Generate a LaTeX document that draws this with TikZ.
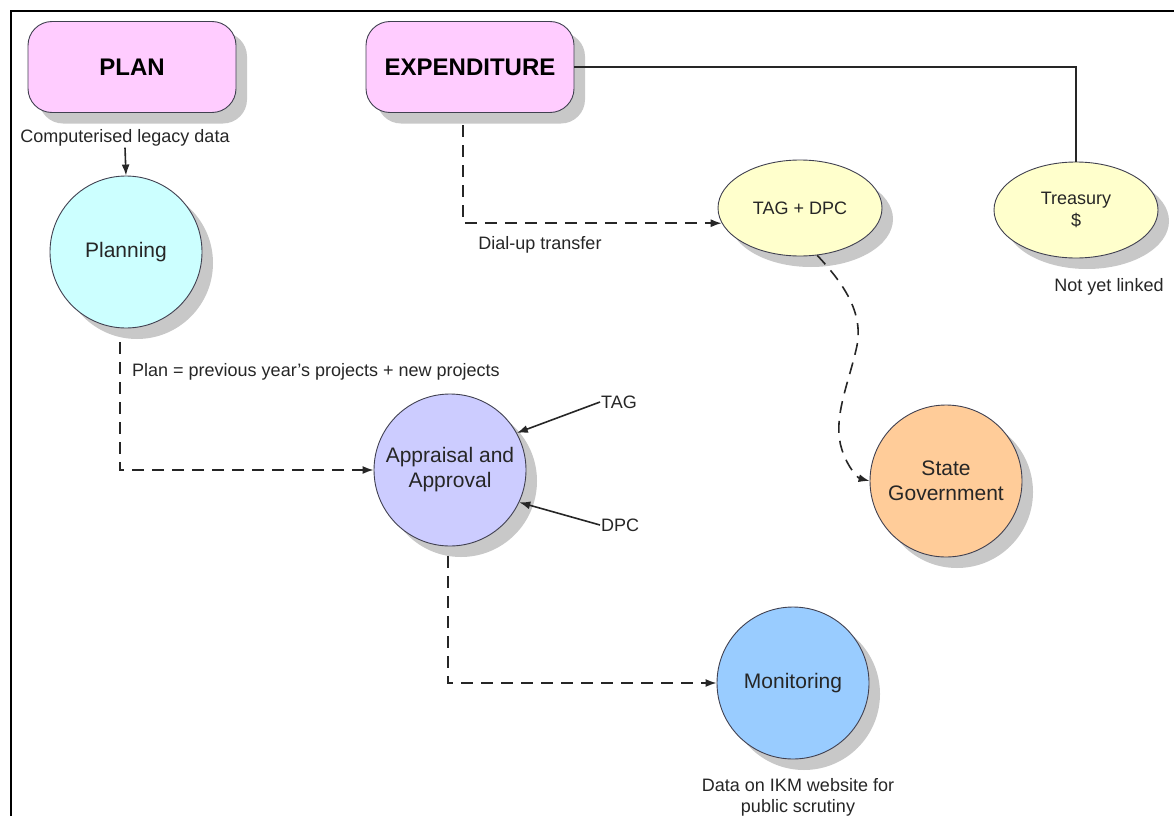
\documentclass[tikz,border=0pt]{standalone}
\usepackage{fontspec}
\setmainfont{Liberation Sans}
\usetikzlibrary{shapes.geometric,shadows,arrows.meta,calc}
\definecolor{pinkfill}{HTML}{FFCCFF}
\definecolor{cyanfill}{HTML}{CCFFFF}
\definecolor{yellowfill}{HTML}{FFFFCC}
\definecolor{lavfill}{HTML}{CCCCFF}
\definecolor{orfill}{HTML}{FFCC99}
\definecolor{blufill}{HTML}{99CCFF}
\definecolor{shadowgray}{HTML}{C8C8C8}
\definecolor{edgecol}{HTML}{404050}
\begin{document}
\begin{tikzpicture}[x=1pt,y=-1pt,
  shd/.style={drop shadow={shadow xshift=11pt,shadow yshift=-11pt,fill=shadowgray,opacity=1}},
  box/.style={draw=edgecol,line width=0.9pt,rounded corners=24pt,minimum width=208pt,minimum height=91pt,inner sep=0pt,font=\fontsize{24}{28}\selectfont\bfseries,shd},
  circ/.style={circle,draw=edgecol,line width=0.9pt,minimum size=152pt,inner sep=0pt,align=center,font=\fontsize{21}{25}\selectfont,text=black!85,shd},
  ell/.style={ellipse,draw=edgecol,line width=0.9pt,minimum width=164pt,minimum height=96pt,inner sep=0pt,align=center,font=\fontsize{18}{22}\selectfont,text=black!85,shd,fill=yellowfill},
  lbl/.style={font=\fontsize{18}{21}\selectfont,inner sep=1pt,align=center,text=black!85},
  conn/.style={line width=1.6pt,draw=black!85},
  dconn/.style={conn,dash pattern=on 12pt off 8pt},
  arr/.style={-{Latex[length=11pt,width=8pt]}}
]
\useasboundingbox (0,0) rectangle (1174,816);

% nodes
\node[box,fill=pinkfill] (plan) at (132,67) {PLAN};
\node[box,fill=pinkfill] (exp) at (470,67) {EXPENDITURE};
\node[lbl] (cld) at (125,138) {Computerised legacy data};
\node[circ,fill=cyanfill] (planning) at (126,252) {Planning};
\node[circ,fill=lavfill] (app) at (450,470) {Appraisal and\\Approval};
\node[circ,fill=blufill] (mon) at (793,683) {Monitoring};
\node[circ,fill=orfill] (sg) at (946,481) {State\\Government};
\node[ell] (td) at (800,208) {TAG + DPC};
\node[ell] (tr) at (1076,210) {Treasury\\\$};
\node[lbl] (dial) at (540,245) {Dial-up transfer};
\node[lbl] (nyl) at (1109,287) {Not yet linked};
\node[lbl,anchor=west] (plantxt) at (131,372) {Plan = previous year's projects + new projects};
\node[lbl,anchor=west] (tag) at (600,402) {TAG};
\node[lbl,anchor=west] (dpc) at (600,525) {DPC};
\node[lbl] (ikm) at (798,797) {Data on IKM website for\\public scrutiny};

% free ends below shadows
\coordinate (p1) at (120,342);
\coordinate (a1) at (448,556);
\coordinate (e1) at (463,125);

% connectors
\draw[conn,arr] (cld.south) -- (planning.north);
\draw[dconn,arr] (p1) |- (app.west);
\draw[dconn,arr] (a1) |- (mon.west);
\draw[dconn,arr] (e1) |- (td.191);
\draw[conn] (exp.east) -| (tr.north);
\draw[conn,arr] (tag.west) -- (app.29);
\draw[conn,arr] (dpc.west) -- (app.-25);
\draw[dconn,arr] (td.-70) .. controls (845,285) and (865,315) .. (856,350)
  .. controls (848,385) and (832,420) .. (842,450)
  .. controls (848,468) and (858,478) .. (sg.west);

% frame
\draw[line width=2.5pt] (11,816) -- (11,11) -- (1174,11);
\end{tikzpicture}
\end{document}
